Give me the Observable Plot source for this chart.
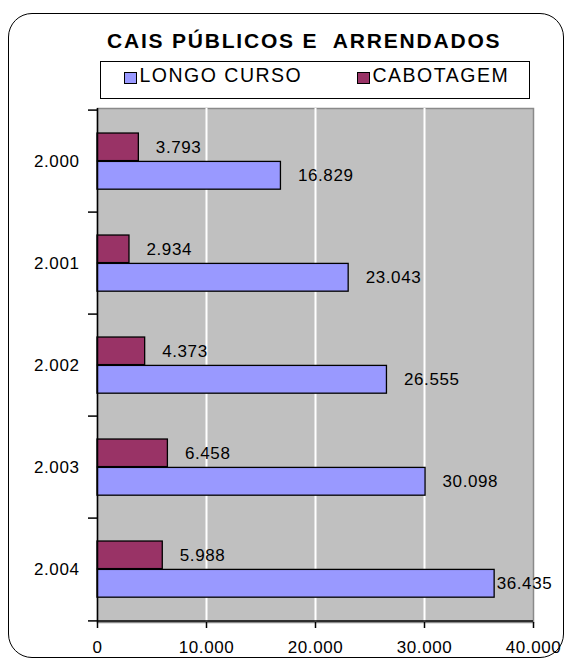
<!DOCTYPE html>
<html>
<head>
<meta charset="utf-8">
<script src="https://cdn.jsdelivr.net/npm/d3@7"></script>
<script src="https://cdn.jsdelivr.net/npm/@observablehq/plot@0.6"></script>
<style>
  html, body { margin: 0; padding: 0; background: #fff; }
  #page { position: relative; width: 569px; height: 662px; overflow: hidden; font-family: "Liberation Sans", Arial, sans-serif; color: #000; }
  #border { position: absolute; left: 8px; top: 13px; width: 556px; height: 645px; box-sizing: border-box; border: 1.5px solid #000; border-radius: 24px; }
  #title { position: absolute; left: 107px; top: 30px; font-size: 21px; line-height: 21px; font-weight: bold; letter-spacing: 1.8px; white-space: pre; }
  #legend { position: absolute; left: 100px; top: 61px; width: 430px; height: 38px; box-sizing: border-box; border: 1.5px solid #000; background: #fff; }
  .sw { position: absolute; width: 13px; height: 12px; box-sizing: border-box; border: 1.2px solid #000; }
  .lt { position: absolute; font-size: 19.5px; line-height: 19.5px; letter-spacing: 1.5px; white-space: pre; }
  #chart { position: absolute; left: 0; top: 100px; }
</style>
</head>
<body>
<div id="page">
  <div id="border"></div>
  <div id="title"></div>
  <div id="legend"></div>
  <div id="chart"></div>
</div>
<script>
const title = "CAIS PÚBLICOS E  ARRENDADOS";
const years = ["2.000", "2.001", "2.002", "2.003", "2.004"];
const seriesNames = ["LONGO CURSO", "CABOTAGEM"];
const longoCurso = [16829, 23043, 26555, 30098, 36435];
const cabotagem = [3793, 2934, 4373, 6458, 5988];
const xTicks = [0, 10000, 20000, 30000, 40000];
const gridTicks = [10000, 20000, 30000];
const colors = ["#9999FF", "#993366"];

const loc = d3.formatLocale({decimal: ",", thousands: ".", grouping: [3], currency: ["R$", ""]});
const fmt = loc.format(",d");

document.getElementById("title").textContent = title;

// legend
const legend = document.getElementById("legend");
const legendPos = [{sw: 24 - 1.5, tx: 40 - 1.5}, {sw: 257 - 1.5, tx: 273 - 1.5}];
seriesNames.forEach((name, i) => {
  const sw = document.createElement("div");
  sw.className = "sw";
  sw.style.left = legendPos[i].sw + "px";
  sw.style.top = (11 - 1.5) + "px";
  sw.style.background = colors[i];
  legend.appendChild(sw);
  const t = document.createElement("div");
  t.className = "lt";
  t.style.left = legendPos[i].tx + "px";
  t.style.top = (5.5 - 1.5) + "px";
  t.textContent = name;
  legend.appendChild(t);
});

const longoData = years.map((y, i) => ({year: y, value: longoCurso[i]}));
const cabData = years.map((y, i) => ({year: y, value: cabotagem[i]}));

const W = 569, H = 562, mT = 8, mB = 40, mL = 97, mR = 36;
const bw = (H - mT - mB) / years.length;

const chart = Plot.plot({
  width: W,
  height: H,
  marginTop: mT,
  marginBottom: mB,
  marginLeft: mL,
  marginRight: mR,
  style: {fontFamily: "Liberation Sans, Arial, sans-serif", fontSize: "17px", color: "#000", background: "transparent", letterSpacing: "0.6px"},
  x: {domain: [0, 40000], axis: null, label: null},
  y: {domain: years, padding: 0, axis: null, label: null},
  marks: [
    Plot.frame({fill: "#C0C0C0", stroke: "#8a8a8a", strokeWidth: 1.5}),
    Plot.ruleX(gridTicks, {stroke: "#fff", strokeWidth: 2}),
    Plot.barX(cabData, {x: "value", y: "year", fill: colors[1], stroke: "#000", strokeWidth: 1.3,
      insetTop: 0.224 * bw, insetBottom: 0.5 * bw}),
    Plot.barX(longoData, {x: "value", y: "year", fill: colors[0], stroke: "#000", strokeWidth: 1.3,
      insetTop: 0.5 * bw, insetBottom: 0.222 * bw}),
    Plot.text(cabData, {x: "value", y: "year", text: d => fmt(d.value), textAnchor: "start",
      dx: 17, dy: -0.14 * bw, fill: "#000"}),
    Plot.text(longoData.filter(d => d.value <= 35000), {x: "value", y: "year", text: d => fmt(d.value), textAnchor: "start",
      dx: 17, dy: 0.14 * bw, fill: "#000"}),
    Plot.text(longoData.filter(d => d.value > 35000), {x: "value", y: "year", text: d => fmt(d.value), textAnchor: "start",
      dx: 2, dy: 0.14 * bw, fill: "#000"}),
    Plot.ruleX([0], {stroke: "#000", strokeWidth: 1.5}),
    Plot.ruleY([years[years.length - 1]], {dy: bw / 2, stroke: "#000", strokeWidth: 1.5}),
    Plot.axisX(xTicks, {tickFormat: fmt, tickSize: 6, tickPadding: 12, stroke: "#000", strokeWidth: 1.5, fill: "#000", label: null}),
    Plot.axisY(years, {tickSize: 0, tickPadding: 18, fill: "#000", label: null}),
    Plot.axisY(years, {tickSize: 9, tickFormat: () => "", dy: -bw / 2, stroke: "#000", strokeWidth: 1.5, label: null}),
    Plot.axisY([years[years.length - 1]], {tickSize: 9, tickFormat: () => "", dy: bw / 2, stroke: "#000", strokeWidth: 1.5, label: null})
  ]
});
document.getElementById("chart").appendChild(chart);
</script>
</body>
</html>
